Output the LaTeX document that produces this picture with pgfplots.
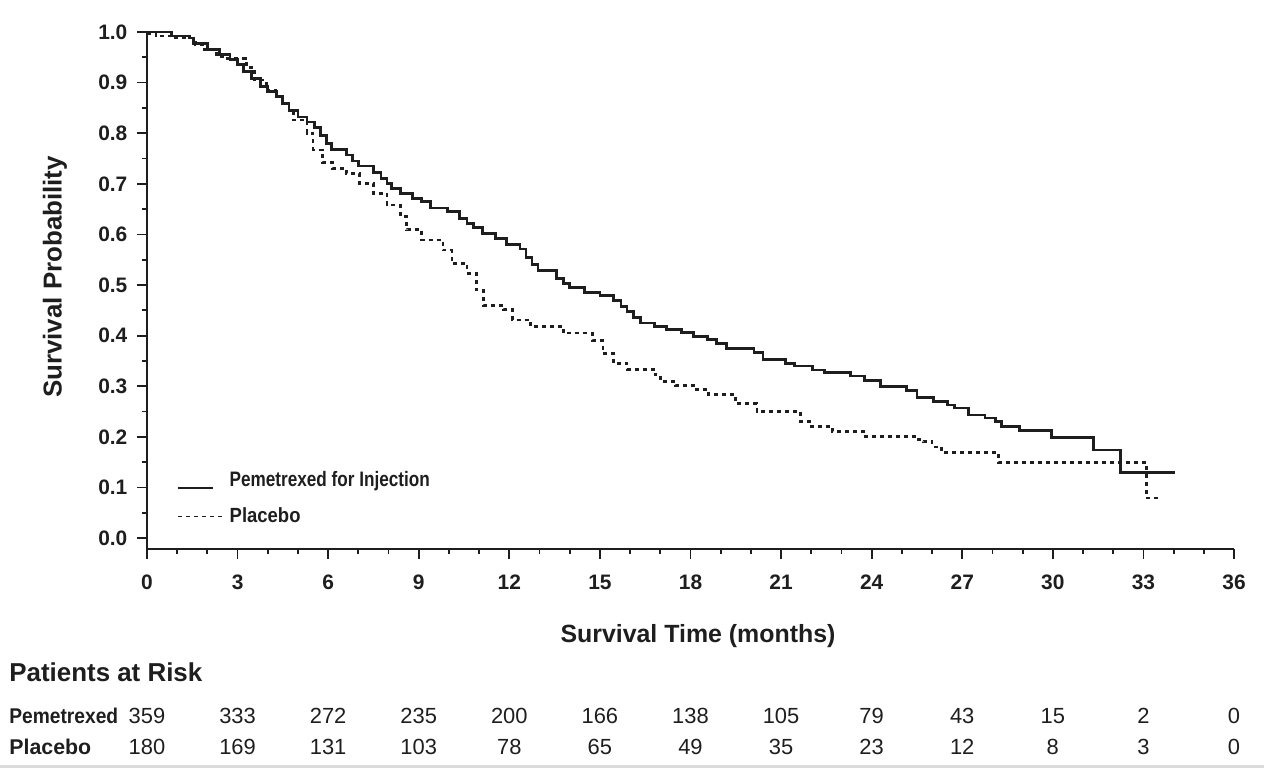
\documentclass[border=0pt]{standalone}
\usepackage{pgfplots}
\pgfplotsset{compat=1.18}
\usepackage{fontspec}
\setmainfont{Liberation Sans}
\newfontfamily\narrowfont[FakeStretch=0.82]{Liberation Sans}
\newfontfamily\semifont[FakeStretch=0.9]{Liberation Sans}
\definecolor{ink}{RGB}{30,30,30}
\pgfplotsset{
    pemleg/.style={legend image code/.code={\draw[##1, line width=1bp] (0bp,-3.5bp) -- (17.5bp,-3.5bp);}},
    plaleg/.style={legend image code/.code={\draw[##1, line width=0.8bp] (0bp,0bp) -- (23.5bp,0bp);}},
}

\begin{document}
\begin{tikzpicture}
% page = 1264 x 769 px, 1 px = 0.5bp, axis origin at px (147,549)
\path[use as bounding box] (-73.5bp,-110bp) rectangle (558.5bp,274.5bp);

\begin{axis}[
    scale only axis,
    width=543.5bp,
    height=258.5bp,
    xmin=0, xmax=36,
    ymin=-0.0217, ymax=1.0,
    clip=false,
    axis lines*=left,
    axis line style={ink, line width=1bp},
    tick align=outside,
    major tick length=4.8bp,
    minor tick length=2.3bp,
    tick style={ink, line width=0.9bp},
    xtick={0,3,...,36},
    minor x tick num=2,
    ytick={0,0.1,0.2,0.3,0.4,0.5,0.6,0.7,0.8,0.9,1.0},
    minor y tick num=1,
    /pgf/number format/assume math mode=true,
    yticklabel style={/pgf/number format/fixed, /pgf/number format/fixed zerofill,
        /pgf/number format/precision=1, xshift=-1.5bp},
    ticklabel style={font=\bfseries\fontsize{10.5}{12}\selectfont, text=ink},
    xticklabel style={yshift=-4.5bp},
    legend style={
        at={(axis cs:0.78,0.148)},
        anchor=north west,
        draw=none,
        fill=none,
        row sep=5bp,
        text=ink
    },
    legend cell align=left
]

% Pemetrexed for Injection
\addplot[const plot, ink, line width=1.4bp, pemleg]
coordinates {
(0,1.0) (0.8,0.992) (1.4,0.988) (1.55,0.978) (2.0,0.966) (2.4,0.955)
(2.75,0.945) (3.0,0.935) (3.2,0.922) (3.45,0.908) (3.75,0.892) (4.0,0.882)
(4.3,0.872) (4.5,0.858) (4.7,0.845) (5.0,0.832) (5.3,0.822) (5.55,0.812)
(5.75,0.795) (5.95,0.78) (6.1,0.768) (6.6,0.757) (6.8,0.745) (7.0,0.735)
(7.5,0.722) (7.75,0.71) (7.95,0.70) (8.1,0.69) (8.4,0.681) (8.8,0.671)
(9.1,0.665) (9.4,0.652) (9.95,0.645) (10.35,0.632) (10.6,0.622) (10.8,0.613)
(11.1,0.602) (11.55,0.592) (11.9,0.58) (12.35,0.571) (12.55,0.555) (12.75,0.54)
(12.95,0.528) (13.55,0.513) (13.8,0.503) (14.0,0.495) (14.5,0.485) (15.0,0.48)
(15.45,0.47) (15.7,0.458) (15.9,0.447) (16.1,0.435) (16.35,0.425) (16.8,0.418)
(17.2,0.412) (17.7,0.406) (18.1,0.399) (18.55,0.393) (18.85,0.385) (19.2,0.375)
(20.1,0.366) (20.4,0.353) (21.15,0.345) (21.45,0.34) (22.05,0.332) (22.45,0.327)
(23.3,0.32) (23.75,0.312) (24.3,0.299) (25.15,0.291) (25.5,0.278) (26.05,0.269)
(26.5,0.263) (26.75,0.257) (27.2,0.243) (27.75,0.237) (28.1,0.23) (28.3,0.221)
(28.9,0.213) (29.95,0.199) (31.35,0.174) (32.25,0.13) (34.05,0.13)
};
\addlegendentry{\narrowfont\bfseries\fontsize{10.5}{12}\selectfont Pemetrexed for Injection}

% Placebo
\addplot[const plot, ink, line width=1.4bp, dash pattern=on 2bp off 2bp, plaleg]
coordinates {
(0,0.997) (0.3,0.992) (0.8,0.988) (1.6,0.975) (1.9,0.965) (2.3,0.952)
(2.6,0.947) (3.25,0.938) (3.3,0.93) (3.55,0.905) (3.95,0.885) (4.25,0.872)
(4.5,0.858) (4.7,0.842) (4.85,0.826) (5.3,0.80) (5.5,0.767) (5.8,0.742)
(6.15,0.731) (6.6,0.721) (7.05,0.701) (7.5,0.681) (7.95,0.658) (8.4,0.635)
(8.6,0.609) (9.1,0.589) (9.8,0.569) (10.1,0.543) (10.6,0.523) (10.9,0.49)
(11.15,0.46) (11.8,0.451) (12.1,0.431) (12.7,0.418) (13.8,0.405) (14.75,0.391)
(15.1,0.365) (15.45,0.345) (15.9,0.333) (16.85,0.322) (17.0,0.309) (17.5,0.302)
(18.1,0.294) (18.6,0.283) (19.5,0.266) (20.2,0.25) (21.65,0.23) (22.0,0.221)
(22.7,0.21) (23.8,0.20) (25.5,0.195) (25.7,0.19) (26.0,0.18) (26.3,0.169)
(28.2,0.15) (33.1,0.079) (33.5,0.079)
};
\addlegendentry{\semifont\bfseries\fontsize{10.3}{12}\selectfont Placebo}

\end{axis}

% labels and the patients-at-risk table, in px of the page
\begin{scope}[shift={(-73.5bp,274.5bp)}, x=0.5bp, y=-0.5bp, text=ink]
    \node[rotate=90, font=\bfseries\fontsize{13}{15}\selectfont] at (55,277) {Survival Probability};
    \node[font=\bfseries\fontsize{12.5}{15}\selectfont] at (698,636) {Survival Time (months)};
    \node[anchor=west, inner sep=0, font=\bfseries\fontsize{13}{15}\selectfont] at (9,672) {Patients at Risk};
    \node[anchor=west, inner sep=0, font=\bfseries\fontsize{10.7}{13}\selectfont] at (9,716) {\semifont Pemetrexed};
    \node[anchor=west, inner sep=0, font=\bfseries\fontsize{10.7}{13}\selectfont] at (9,747) {Placebo};
    \foreach \n [count=\k from 0] in {359,333,272,235,200,166,138,105,79,43,15,2,0}
        \node[inner sep=0, font=\fontsize{11}{13}\selectfont] at (147+90.58*\k,716) {\n};
    \foreach \n [count=\k from 0] in {180,169,131,103,78,65,49,35,23,12,8,3,0}
        \node[inner sep=0, font=\fontsize{11}{13}\selectfont] at (147+90.58*\k,747) {\n};
    \draw[black!14, line width=1.5bp] (0,767) -- (1264,767);
\end{scope}
\end{tikzpicture}
\end{document}
